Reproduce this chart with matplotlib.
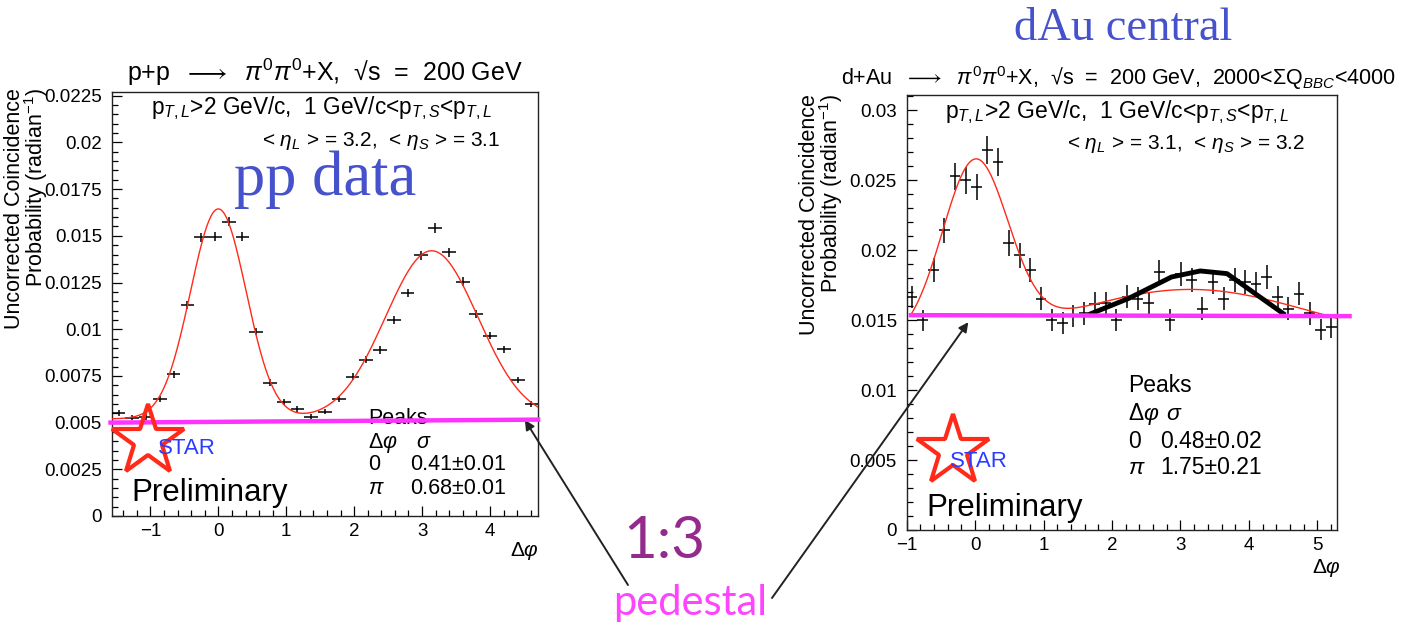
import matplotlib
matplotlib.use('Agg')
import numpy as np
import matplotlib.pyplot as plt
from matplotlib.ticker import MultipleLocator, FuncFormatter

plt.rcParams['font.family'] = ['Liberation Sans', 'DejaVu Sans']
plt.rcParams['mathtext.fontset'] = 'custom'
plt.rcParams['mathtext.rm'] = 'Liberation Sans'
plt.rcParams['mathtext.it'] = 'Liberation Sans:italic'
plt.rcParams['mathtext.bf'] = 'Liberation Sans:bold'

# ---------------- data: p+p ----------------
pp_dphi = [-1.470, -1.267, -1.064, -0.861, -0.659, -0.456, -0.253, -0.051, 0.152, 0.355,
           0.557, 0.760, 0.963, 1.165, 1.368, 1.571, 1.773, 1.976, 2.179, 2.382,
           2.584, 2.787, 2.990, 3.192, 3.395, 3.598, 3.800, 4.003, 4.206, 4.409, 4.611]
pp_prob = [0.00550, 0.00527, 0.00530, 0.00625, 0.00759, 0.01130, 0.01492, 0.01496, 0.01576, 0.01496,
           0.00987, 0.00714, 0.00611, 0.00572, 0.00532, 0.00559, 0.00625, 0.00746, 0.00836, 0.00889,
           0.01050, 0.01193, 0.01397, 0.01541, 0.01412, 0.01255, 0.01082, 0.00966, 0.00893, 0.00729, 0.00598]
pp_err = [0.00015, 0.00015, 0.00015, 0.00016, 0.00018, 0.00022, 0.00025, 0.00025, 0.00026, 0.00025,
          0.00020, 0.00017, 0.00016, 0.00015, 0.00015, 0.00015, 0.00016, 0.00017, 0.00019, 0.00020,
          0.00021, 0.00023, 0.00024, 0.00025, 0.00024, 0.00022, 0.00021, 0.00020, 0.00019, 0.00017, 0.00016]
pp_binw = 0.2027
# fit parameters (pedestal + two gaussians)
pp_fit_ped, pp_fit_a0, pp_fit_s0, pp_fit_api, pp_fit_spi = 0.0052, 0.01124, 0.41, 0.0090, 0.68
pp_pedestal_line = [0.00500, 0.00516]

# ---------------- data: d+Au central ----------------
dau_dphi = [-0.921, -0.764, -0.607, -0.450, -0.293, -0.136, 0.021, 0.178, 0.335, 0.492,
            0.649, 0.806, 0.963, 1.120, 1.277, 1.434, 1.591, 1.748, 1.906, 2.063,
            2.220, 2.377, 2.534, 2.691, 2.848, 3.005, 3.162, 3.319, 3.476, 3.634,
            3.791, 3.948, 4.105, 4.262, 4.419, 4.576, 4.733, 4.890, 5.047, 5.204]
dau_prob = [0.01666, 0.01500, 0.01857, 0.02143, 0.02529, 0.02500, 0.02452, 0.02719, 0.02630, 0.02052,
            0.01964, 0.01862, 0.01655, 0.01500, 0.01481, 0.01529, 0.01548, 0.01619, 0.01620, 0.01500,
            0.01667, 0.01655, 0.01620, 0.01845, 0.01500, 0.01833, 0.01786, 0.01583, 0.01774, 0.01655,
            0.01786, 0.01774, 0.01762, 0.01809, 0.01666, 0.01583, 0.01690, 0.01548, 0.01433, 0.01452]
dau_err = [0.00080, 0.00075, 0.00085, 0.00090, 0.00098, 0.00098, 0.00095, 0.00100, 0.00100, 0.00090,
           0.00088, 0.00086, 0.00082, 0.00078, 0.00078, 0.00080, 0.00080, 0.00082, 0.00082, 0.00078,
           0.00082, 0.00082, 0.00082, 0.00086, 0.00078, 0.00086, 0.00085, 0.00080, 0.00085, 0.00082,
           0.00085, 0.00085, 0.00085, 0.00086, 0.00082, 0.00080, 0.00082, 0.00080, 0.00076, 0.00076]
dau_binw = 0.1571
dau_fit_ped, dau_fit_a0, dau_fit_s0, dau_fit_api, dau_fit_spi = 0.0133, 0.01245, 0.48, 0.00390, 1.75
dau_pedestal_line = [0.01536, 0.01529]
dau_hand_dphi = [1.70, 2.24, 2.87, 3.29, 3.68, 4.50]
dau_hand_prob = [0.01548, 0.01655, 0.01809, 0.01852, 0.01833, 0.01548]

W, H = 1401, 631
fig = plt.figure(figsize=(W / 100, H / 100), dpi=100)


def fx(px):
    return px / W


def fy(py):
    return 1 - py / H


def rect(x0, x1, y0, y1):
    return [fx(x0), fy(y1), fx(x1) - fx(x0), fy(y0) - fy(y1)]


ax1 = fig.add_axes(rect(111.7, 538.3, 92, 516))
ax2 = fig.add_axes(rect(906.7, 1336.7, 95, 530))


def _fmt(v, p):
    s = '%g' % round(v, 6)
    return s.replace('-', '\u2212')


fmt = FuncFormatter(_fmt)


def style_axes(ax, xlim, ylim, ymaj, ymin):
    ax.set_xlim(*xlim)
    ax.set_ylim(*ylim)
    ax.xaxis.set_major_locator(MultipleLocator(1))
    ax.xaxis.set_minor_locator(MultipleLocator(0.2))
    ax.yaxis.set_major_locator(MultipleLocator(ymaj))
    ax.yaxis.set_minor_locator(MultipleLocator(ymin))
    ax.xaxis.set_major_formatter(fmt)
    ax.yaxis.set_major_formatter(fmt)
    ax.tick_params(which='both', direction='in', top=False, right=False,
                   labelsize=13.5, width=0.9, color='black')
    ax.tick_params(axis='y', pad=7)
    ax.tick_params(axis='x', pad=5)
    ax.tick_params(which='major', length=7)
    ax.tick_params(which='minor', length=4)
    for s in ax.spines.values():
        s.set_linewidth(1.0)
        s.set_color('#222222')


style_axes(ax1, (-np.pi / 2, 3 * np.pi / 2), (0, 0.0227), 0.0025, 0.0005)
style_axes(ax2, (-1, 2 * np.pi - 1), (0, 0.0311), 0.005, 0.001)

# --- data points
ax1.errorbar(pp_dphi, pp_prob, yerr=pp_err, xerr=pp_binw / 2, fmt='none',
             ecolor='black', elinewidth=1.1, capsize=0, zorder=3)
ax2.errorbar(dau_dphi, dau_prob, yerr=dau_err, xerr=dau_binw / 2, fmt='none',
             ecolor='black', elinewidth=1.1, capsize=0, zorder=3)

# --- fit curves
xs1 = np.linspace(-np.pi / 2, 3 * np.pi / 2, 400)
fit1 = (pp_fit_ped + pp_fit_a0 * np.exp(-xs1 ** 2 / (2 * pp_fit_s0 ** 2))
        + pp_fit_api * np.exp(-(xs1 - np.pi) ** 2 / (2 * pp_fit_spi ** 2)))
ax1.plot(xs1, fit1, color='#ff2a1a', lw=1.0, zorder=4)
xs2 = np.linspace(-0.93, 2 * np.pi - 1, 400)
fit2 = (dau_fit_ped + dau_fit_a0 * np.exp(-xs2 ** 2 / (2 * dau_fit_s0 ** 2))
        + dau_fit_api * np.exp(-(xs2 - np.pi) ** 2 / (2 * dau_fit_spi ** 2)))
ax2.plot(xs2, fit2, color='#ff2a1a', lw=1.0, zorder=4)

# --- hand-drawn away-side line on dAu
ax2.plot(dau_hand_dphi, dau_hand_prob, color='black', lw=3.5, zorder=5,
         solid_joinstyle='round')

# --- pedestal lines
ax1.plot([-np.pi / 2 - 0.05, 3 * np.pi / 2 + 0.03], pp_pedestal_line, color='#ff33ff',
         lw=3.2, zorder=6, clip_on=False, solid_capstyle='butt')
ax2.plot([-0.97, 2 * np.pi - 1 + 0.22], dau_pedestal_line, color='#ff33ff',
         lw=3.2, zorder=6, clip_on=False, solid_capstyle='butt')

# --- STAR logos
for ax, sx, sy, tx, ty in [(ax1, 0.085, 0.178, 0.108, 0.16), (ax2, 0.108, 0.182, 0.100, 0.158)]:
    ax.plot([sx], [sy], marker='*', ms=54, mfc='none', mec='#ff2a1a', mew=3.0,
            transform=ax.transAxes, clip_on=False, zorder=7)
    ax.text(tx, ty, 'STAR', transform=ax.transAxes, color='#2a3cff', fontsize=16,
            ha='left', va='center', zorder=8)


# --- texts in figure pixel coordinates
def ftext(px, py, s, **kw):
    fig.text(fx(px), fy(py), s, **kw)


# titles
ftext(325, 72, r'p+p  $\longrightarrow$  $\pi^{0}\pi^{0}$+X,  √s  =  200 GeV', fontsize=18,
      ha='center', va='center')
ftext(1118, 78, r'd+Au  $\longrightarrow$  $\pi^{0}\pi^{0}$+X,  √s  =  200 GeV,  2000<$\Sigma$Q$_{BBC}$<4000',
      fontsize=15.5, ha='center', va='center')

# cut labels
cut_txt = r'$\mathrm{p}_{T,L}$>2 GeV/c,  1 GeV/c<$\mathrm{p}_{T,S}$<$\mathrm{p}_{T,L}$'
ftext(321, 108, cut_txt, fontsize=16.3, ha='center', va='center')
ftext(500, 141, r'< $\eta_{L}$ > = 3.2,  < $\eta_{S}$ > = 3.1', fontsize=15, ha='right', va='center')
ftext(1117, 112, cut_txt, fontsize=16.5, ha='center', va='center')
ftext(1305, 144, r'< $\eta_{L}$ > = 3.1,  < $\eta_{S}$ > = 3.2', fontsize=15, ha='right', va='center')

# big blue labels
ftext(325, 180, 'pp data', fontsize=45, family='Liberation Serif', color='#4652cc',
      ha='center', va='center')
ftext(1123, 29, 'dAu central', fontsize=33.5, family='Liberation Serif', color='#4652cc',
      ha='center', va='center')

# y-axis titles
ylab = 'Uncorrected Coincidence\nProbability (radian$^{-1}$)'
ftext(27, 88, ylab, fontsize=15.5, rotation=90, ha='center', va='top',
      multialignment='right', linespacing=0.85)
ftext(822, 94, ylab, fontsize=15.5, rotation=90, ha='center', va='top',
      multialignment='right', linespacing=0.85)

# x-axis titles
ftext(524, 551, r'$\Delta\varphi$', fontsize=15, ha='center', va='center')
ftext(1326, 568, r'$\Delta\varphi$', fontsize=15, ha='center', va='center')

# Preliminary
ftext(210, 493, 'Preliminary', fontsize=22.5, ha='center', va='center')
ftext(1005, 508, 'Preliminary', fontsize=22.5, ha='center', va='center')


# Peaks tables (drawn inside the axes so the pedestal line passes over them)
def atext(ax, px, py, s, **kw):
    ax.text(fx(px), fy(py), s, transform=fig.transFigure, clip_on=False, zorder=2, **kw)


for (ax, fs, x0, x1, ys, vals) in [
        (ax1, 15.5, 368, 410, (419, 443, 465, 488), ('0.41±0.01', '0.68±0.01')),
        (ax2, 16.5, 1128, 1160, (385, 414, 442, 467), ('0.48±0.02', '1.75±0.21'))]:
    atext(ax, x0, ys[0], 'Peaks', fontsize=fs, ha='left', va='center')
    atext(ax, x0, ys[1], r'$\Delta\varphi$', fontsize=fs, ha='left', va='center')
    atext(ax, x1 + 6, ys[1], r'$\sigma$', fontsize=fs, ha='left', va='center')
    atext(ax, x0, ys[2], '0', fontsize=fs, ha='left', va='center')
    atext(ax, x1, ys[2], vals[0], fontsize=fs, ha='left', va='center')
    atext(ax, x0, ys[3], r'$\pi$', fontsize=fs, ha='left', va='center')
    atext(ax, x1, ys[3], vals[1], fontsize=fs, ha='left', va='center')

# ratio & pedestal labels
ftext(664, 541, '1:3', fontsize=42, family='Lato', color='#942a8c', ha='center', va='center')
ftext(690, 603, 'pedestal', fontsize=30, family='Lato', color='#ff44ff', ha='center', va='center')

# arrows
ax1.annotate('', xy=(4.515, 0.00514), xycoords='data',
             xytext=(fx(628), fy(585)), textcoords='figure fraction',
             arrowprops=dict(arrowstyle='-|>', color='#222222', lw=1.4,
                             mutation_scale=14, shrinkA=0, shrinkB=0),
             annotation_clip=False)
ax2.annotate('', xy=(-0.10, 0.01486), xycoords='data',
             xytext=(fx(772), fy(598)), textcoords='figure fraction',
             arrowprops=dict(arrowstyle='-|>', color='#222222', lw=1.4,
                             mutation_scale=14, shrinkA=0, shrinkB=0),
             annotation_clip=False)

fig.savefig('out.png', dpi=100)
